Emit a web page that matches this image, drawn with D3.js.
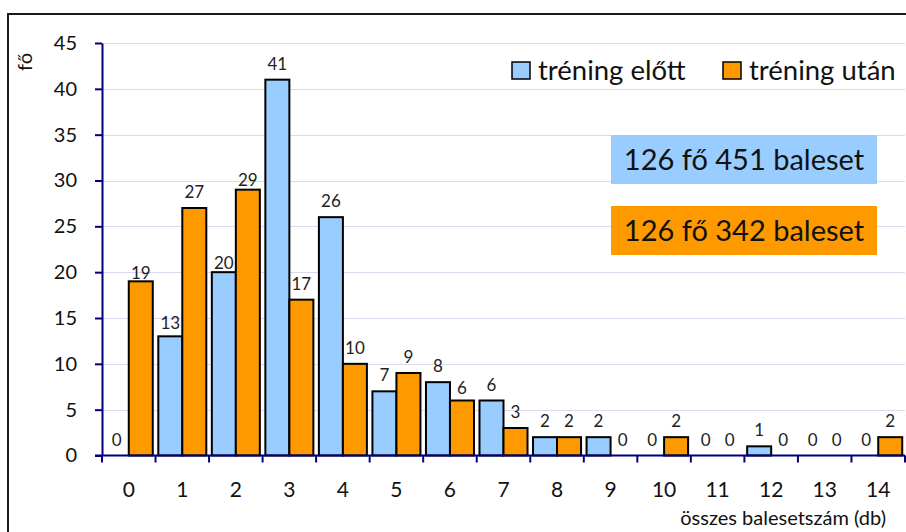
<!DOCTYPE html>
<html>
<head>
<meta charset="utf-8">
<script src="https://cdn.jsdelivr.net/npm/d3@7"></script>
<style>
  html, body { margin: 0; padding: 0; background: #fff; }
  svg { display: block; font-family: Lato, "Open Sans", sans-serif; }
</style>
</head>
<body>
<svg id="chart" width="906" height="532"></svg>
<script>
// Number of accidents per person (0..14)
const categories = ["0","1","2","3","4","5","6","7","8","9","10","11","12","13","14"];
const seriesNames = ["tréning előtt", "tréning után"];
const beforeValues = [0, 13, 20, 41, 26, 7, 8, 6, 2, 2, 0, 0, 1, 0, 0];
const afterValues  = [19, 27, 29, 17, 10, 9, 6, 3, 2, 0, 2, 0, 0, 0, 2];
const yTicks = [0, 5, 10, 15, 20, 25, 30, 35, 40, 45];
const summaryTexts = ["126 fő 451 baleset", "126 fő 342 baleset"];
const yTitle = "fő";
const xTitle = "összes balesetszám (db)";

const colors = ["#99CCFF", "#FF9900"];
const axisColor = "#000080";
const gridColor = "#D9D9F0";

// a few value labels sit closer to their bar to avoid crowding (series-category -> gap in px)
const labelGap = 10;
const labelGapOverrides = { "1-0": 2, "0-1": 7, "0-2": 3, "1-2": 3.5, "1-6": 7 };

const svg = d3.select("#chart");

// outer frame
svg.append("path")
  .attr("d", "M8,532 V14 H906")
  .attr("fill", "none").attr("stroke", "#1a1a1a").attr("stroke-width", 2);

const plot = { left: 102, right: 905, top: 43, bottom: 455.5 };

const x = d3.scaleBand().domain(categories).range([plot.left, plot.right]).paddingInner(0).paddingOuter(0);
const inner = d3.scaleBand().domain(seriesNames).range([0, x.bandwidth()]).paddingInner(0).paddingOuter(0.115);
const y = d3.scaleLinear().domain([0, 45]).range([plot.bottom, plot.top]);

// gridlines
svg.append("g").selectAll("line").data(yTicks.filter(t => t > 0)).join("line")
  .attr("x1", plot.left).attr("x2", plot.right)
  .attr("y1", d => Math.round(y(d)) + 0.5).attr("y2", d => Math.round(y(d)) + 0.5)
  .attr("stroke", gridColor).attr("stroke-width", 1.2);

// bars
const rows = categories.map((c, i) => ({ c, i, vals: [beforeValues[i], afterValues[i]] }));
const groups = svg.append("g").selectAll("g").data(rows).join("g")
  .attr("transform", d => `translate(${x(d.c)},0)`);

groups.selectAll("rect").data(d => d.vals.map((v, k) => ({ v, k })).filter(e => e.v > 0)).join("rect")
  .attr("x", e => inner(seriesNames[e.k]))
  .attr("width", inner.bandwidth())
  .attr("y", e => y(e.v))
  .attr("height", e => y(0) - y(e.v))
  .attr("fill", e => colors[e.k])
  .attr("stroke", "#000").attr("stroke-width", 2);

// data labels
groups.selectAll("text").data(d => d.vals.map((v, k) => ({ v, k, i: d.i }))).join("text")
  .attr("x", e => inner(seriesNames[e.k]) + inner.bandwidth() / 2)
  .attr("y", e => {
    const key = `${e.k}-${e.i}`;
    const gap = key in labelGapOverrides ? labelGapOverrides[key] : labelGap;
    return y(e.v) - gap;
  })
  .attr("text-anchor", "middle")
  .attr("font-size", 17)
  .attr("fill", "#222")
  .text(e => e.v);

// y axis
const yAxis = svg.append("g")
  .attr("transform", `translate(${plot.left},0)`)
  .call(d3.axisLeft(y).tickValues(yTicks).tickSize(7).tickPadding(18).tickSizeOuter(0));
yAxis.select(".domain").attr("stroke", axisColor).attr("stroke-width", 2);
yAxis.selectAll(".tick line").attr("stroke", axisColor).attr("stroke-width", 2);
yAxis.selectAll(".tick text").attr("font-size", 20).attr("fill", "#111").attr("font-family", "Lato, sans-serif");

// x axis (ticks between categories)
const xAxisG = svg.append("g").attr("transform", `translate(0,${plot.bottom})`);
xAxisG.append("line").attr("x1", plot.left - 7).attr("x2", plot.right)
  .attr("stroke", axisColor).attr("stroke-width", 2);
const boundaries = categories.map(c => x(c)).concat([x(categories[categories.length - 1]) + x.bandwidth()]);
xAxisG.selectAll("line.tk").data(boundaries).join("line").attr("class", "tk")
  .attr("x1", d => d).attr("x2", d => d).attr("y1", 0).attr("y2", 7)
  .attr("stroke", axisColor).attr("stroke-width", 2);
xAxisG.selectAll("text").data(categories).join("text")
  .attr("x", d => x(d) + x.bandwidth() / 2)
  .attr("y", 41)
  .attr("text-anchor", "middle")
  .attr("font-size", 21).attr("fill", "#111")
  .text(d => d);

// axis titles
svg.append("text")
  .attr("transform", "translate(32,62) rotate(-90)")
  .attr("text-anchor", "middle")
  .attr("font-size", 20).attr("fill", "#111")
  .text(yTitle);
svg.append("text")
  .attr("x", 886).attr("y", 525)
  .attr("text-anchor", "end")
  .attr("font-size", 20).attr("fill", "#111")
  .text(xTitle);

// legend
const legendItems = [{ x: 512, name: seriesNames[0], color: colors[0] }, { x: 723, name: seriesNames[1], color: colors[1] }];
const lg = svg.append("g").selectAll("g").data(legendItems).join("g")
  .attr("transform", d => `translate(${d.x},62)`);
lg.append("rect").attr("width", 18).attr("height", 17)
  .attr("fill", d => d.color).attr("stroke", "#000").attr("stroke-width", 1.5);
lg.append("text").attr("x", 26).attr("y", 18)
  .attr("font-size", 27.5).attr("fill", "#111")
  .text(d => d.name);

// summary boxes
const boxes = [{ y: 135, text: summaryTexts[0], color: colors[0] }, { y: 206, text: summaryTexts[1], color: colors[1] }];
const bx = svg.append("g").selectAll("g").data(boxes).join("g")
  .attr("transform", d => `translate(611,${d.y})`);
bx.append("rect").attr("width", 266).attr("height", 49).attr("fill", d => d.color);
bx.append("text").attr("x", 133).attr("y", 35)
  .attr("text-anchor", "middle")
  .attr("font-size", 29).attr("fill", "#111")
  .text(d => d.text);
</script>
</body>
</html>
